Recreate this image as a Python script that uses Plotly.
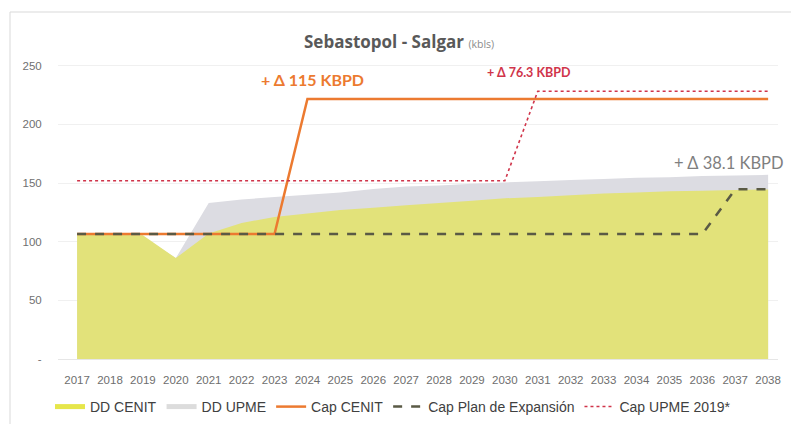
import plotly.graph_objects as go

years = list(range(2017, 2039))
dd_cenit = [106, 106, 105.5, 86, 107, 116, 121, 124, 127, 129, 131, 133, 135, 137, 138, 139.5,
            141, 142, 143, 143.5, 144, 144.5]
dd_upme = [105, 105, 104.5, 86, 133, 136, 138, 140, 142, 145, 147, 148, 149.5, 150.5, 151.5,
           152.5, 153.5, 154.5, 155, 156, 156.5, 157]
cap_cenit = [106.6] * 7 + [221.6] * 15
cap_plan = [106.5] * 20 + [144.6] * 2
cap_upme = [152] * 14 + [228.3] * 8

y_ticks = [0, 50, 100, 150, 200, 250]
y_tick_labels = ["-", "50", "100", "150", "200", "250"]

YELLOW = "#E2E27A"
GRAY = "#DCDCE2"
ORANGE = "#EC7A30"
RED = "#D0344A"
DASH = "#5A5A45"

fig = go.Figure()
fig.add_trace(go.Scatter(x=years, y=dd_upme, fill="tozeroy", mode="none",
                         fillcolor=GRAY, showlegend=False, hoverinfo="skip"))
fig.add_trace(go.Scatter(x=years, y=dd_cenit, fill="tozeroy", mode="none",
                         fillcolor=YELLOW, showlegend=False, hoverinfo="skip"))
fig.add_trace(go.Scatter(x=years, y=cap_cenit, mode="lines", name="Cap CENIT",
                         line=dict(color=ORANGE, width=2.5), showlegend=False))
fig.add_trace(go.Scatter(x=years, y=cap_plan, mode="lines", name="Cap Plan de Expansión",
                         line=dict(color=DASH, width=2.5, dash="dash"), showlegend=False))
fig.add_trace(go.Scatter(x=years, y=cap_upme, mode="lines", name="Cap UPME 2019*",
                         line=dict(color=RED, width=1.6, dash="dot"), showlegend=False))

# legend proxies
legend_items = [("DD CENIT", "#E6E64A", 5, "solid"),
                ("DD UPME", "#DCDCDC", 5, "solid"),
                ("Cap CENIT", ORANGE, 2.5, "solid"),
                ("Cap Plan de Expansión", DASH, 2.5, "dash"),
                ("Cap UPME 2019*", RED, 1.5, "dot")]
for name, col, w, d in legend_items:
    fig.add_trace(go.Scatter(x=[None], y=[None], mode="lines", name=name,
                             line=dict(color=col, width=w, dash=d)))

L, R, T, B = 58, 13, 54, 65
W, H = 791, 424
pw = W - L - R
ph = H - T - B

def px(xp):
    return (xp - L) / pw

def py(yp):
    return (H - B - yp) / ph

fig.add_shape(type="rect", xref="paper", yref="paper",
              x0=px(10), x1=px(796), y0=py(440), y1=py(12),
              line=dict(color="#D9D9D9", width=1), fillcolor="rgba(0,0,0,0)", layer="below")

fig.add_annotation(x=2024.14, y=238, xref="x", yref="y", text="<b>+ Δ 115 KBPD</b>",
                   showarrow=False, font=dict(family="Lato, sans-serif", size=16, color=ORANGE))
fig.add_annotation(x=2030.74, y=244, xref="x", yref="y", text="<b>+ Δ 76.3 KBPD</b>",
                   showarrow=False, font=dict(family="Lato, sans-serif", size=12.5, color=RED))
fig.add_annotation(x=2036.8, y=167, xref="x", yref="y", text="+ Δ 38.1 KBPD",
                   showarrow=False, font=dict(family="Lato, sans-serif", size=16.5, color="#7F7F7F"))

fig.add_annotation(x=px(302), y=py(41), xref="paper", yref="paper", xanchor="left",
                   yanchor="middle", showarrow=False,
                   text="<b>Sebastopol - Salgar</b> <span style='font-size:10.5px;color:#8C8C8C'>(kbls)</span>",
                   font=dict(family="Open Sans, sans-serif", size=17, color="#595959"))

tick_font = dict(family="Liberation Sans, sans-serif", size=11.5, color="#707070")

fig.update_layout(
    width=W, height=H,
    margin=dict(l=L, r=R, t=T, b=B, autoexpand=False),
    paper_bgcolor="white", plot_bgcolor="white",
    xaxis=dict(range=[2016.42, 2038.3], tickmode="array", tickvals=years,
               ticktext=[str(y) for y in years], showgrid=False, zeroline=False,
               showline=True, linecolor="#E6E6E6", ticks="outside", ticklen=10,
               tickcolor="rgba(0,0,0,0)", automargin=False,
               tickfont=dict(family="Liberation Sans, sans-serif", size=11.5, color="#6E6E6E")),
    yaxis=dict(range=[0, 260], tickmode="array", tickvals=y_ticks, ticktext=y_tick_labels,
               showgrid=True, gridcolor="#F0F0F0", gridwidth=1, zeroline=False,
               ticks="outside", ticklen=13, tickcolor="rgba(0,0,0,0)", automargin=False,
               tickfont=tick_font),
    legend=dict(orientation="h", x=px(393), xanchor="center", y=py(407), yanchor="middle",
                font=dict(family="Liberation Sans Narrow, Liberation Sans, sans-serif",
                          size=14, color="#404040"),
                itemwidth=30, bgcolor="rgba(0,0,0,0)", tracegroupgap=0),
    showlegend=True,
)

fig.write_html("out.html", config={"displayModeBar": False},
               post_script="document.body.style.margin='0';")
